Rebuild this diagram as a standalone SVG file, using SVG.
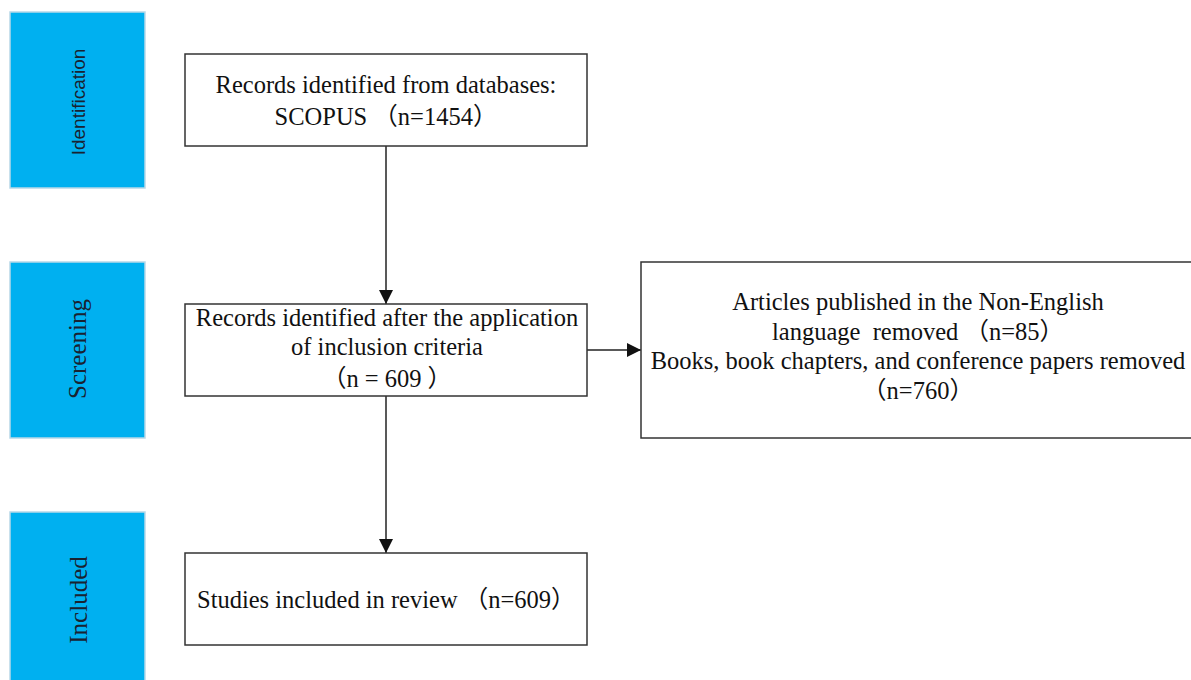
<svg xmlns="http://www.w3.org/2000/svg" width="1191" height="680" viewBox="0 0 1191 680">
<style>
.stage{fill:#00B0F0;stroke:#B8D8E8;stroke-width:1.5}
.box{fill:#fff;stroke:#333;stroke-width:1.5}
.t{font-family:"Liberation Serif","Noto Sans CJK SC",serif;font-size:24.5px;fill:#111}
.ts{font-family:"Liberation Sans",Arial,sans-serif;font-size:19px;fill:#1a2230}
.tv{font-family:"Liberation Serif","Noto Sans CJK SC",serif;font-size:25px;fill:#1a2230}
.c{stroke:#222;stroke-width:1.5;fill:none}
</style>
<defs>
<marker id="ah" markerWidth="15" markerHeight="14" refX="14" refY="7" orient="auto" markerUnits="userSpaceOnUse">
<path d="M0,0 L14,7 L0,14 Z" fill="#111"/>
</marker>
</defs>
<rect width="1191" height="680" fill="#fff"/>
<g id="stage-identification">
<rect class="stage" x="10" y="12" width="135" height="176"/>
<text class="ts" transform="translate(85,102) rotate(-90)" text-anchor="middle">Identification</text>
</g>
<g id="stage-screening">
<rect class="stage" x="10" y="262" width="135" height="176"/>
<text class="tv" transform="translate(86,349) rotate(-90)" text-anchor="middle">Screening</text>
</g>
<g id="stage-included">
<rect class="stage" x="10" y="512" width="135" height="176"/>
<text class="tv" transform="translate(87,600) rotate(-90)" text-anchor="middle">Included</text>
</g>
<g id="connectors">
<line class="c" x1="386" y1="146" x2="386" y2="304" marker-end="url(#ah)"/>
<line class="c" x1="386" y1="396" x2="386" y2="553" marker-end="url(#ah)"/>
<line class="c" x1="587" y1="350" x2="641" y2="350" marker-end="url(#ah)"/>
</g>
<g id="node-records">
<rect class="box" x="185" y="54" width="402" height="92"/>
<text class="t" x="386" y="93" text-anchor="middle">Records identified from databases:</text>
<text class="t" x="386" y="125" text-anchor="middle">SCOPUS （n=1454）</text>
</g>
<g id="node-screened">
<rect class="box" x="185" y="304" width="402" height="92"/>
<text class="t" x="387" y="326" text-anchor="middle">Records identified after the application</text>
<text class="t" x="387" y="355" text-anchor="middle">of inclusion criteria</text>
<text class="t" x="387" y="387" text-anchor="middle">（n = 609 ）</text>
</g>
<g id="node-excluded">
<rect class="box" x="641" y="262" width="560" height="176"/>
<text class="t" x="918" y="310" text-anchor="middle">Articles published in the Non-English</text>
<text class="t" x="918" y="340" text-anchor="middle">language&#160; removed （n=85）</text>
<text class="t" x="918" y="369" text-anchor="middle">Books, book chapters, and conference papers removed</text>
<text class="t" x="918" y="399" text-anchor="middle">（n=760）</text>
</g>
<g id="node-included">
<rect class="box" x="185" y="553" width="402" height="92"/>
<text class="t" x="197" y="608">Studies included in review （n=609）</text>
</g>
</svg>
